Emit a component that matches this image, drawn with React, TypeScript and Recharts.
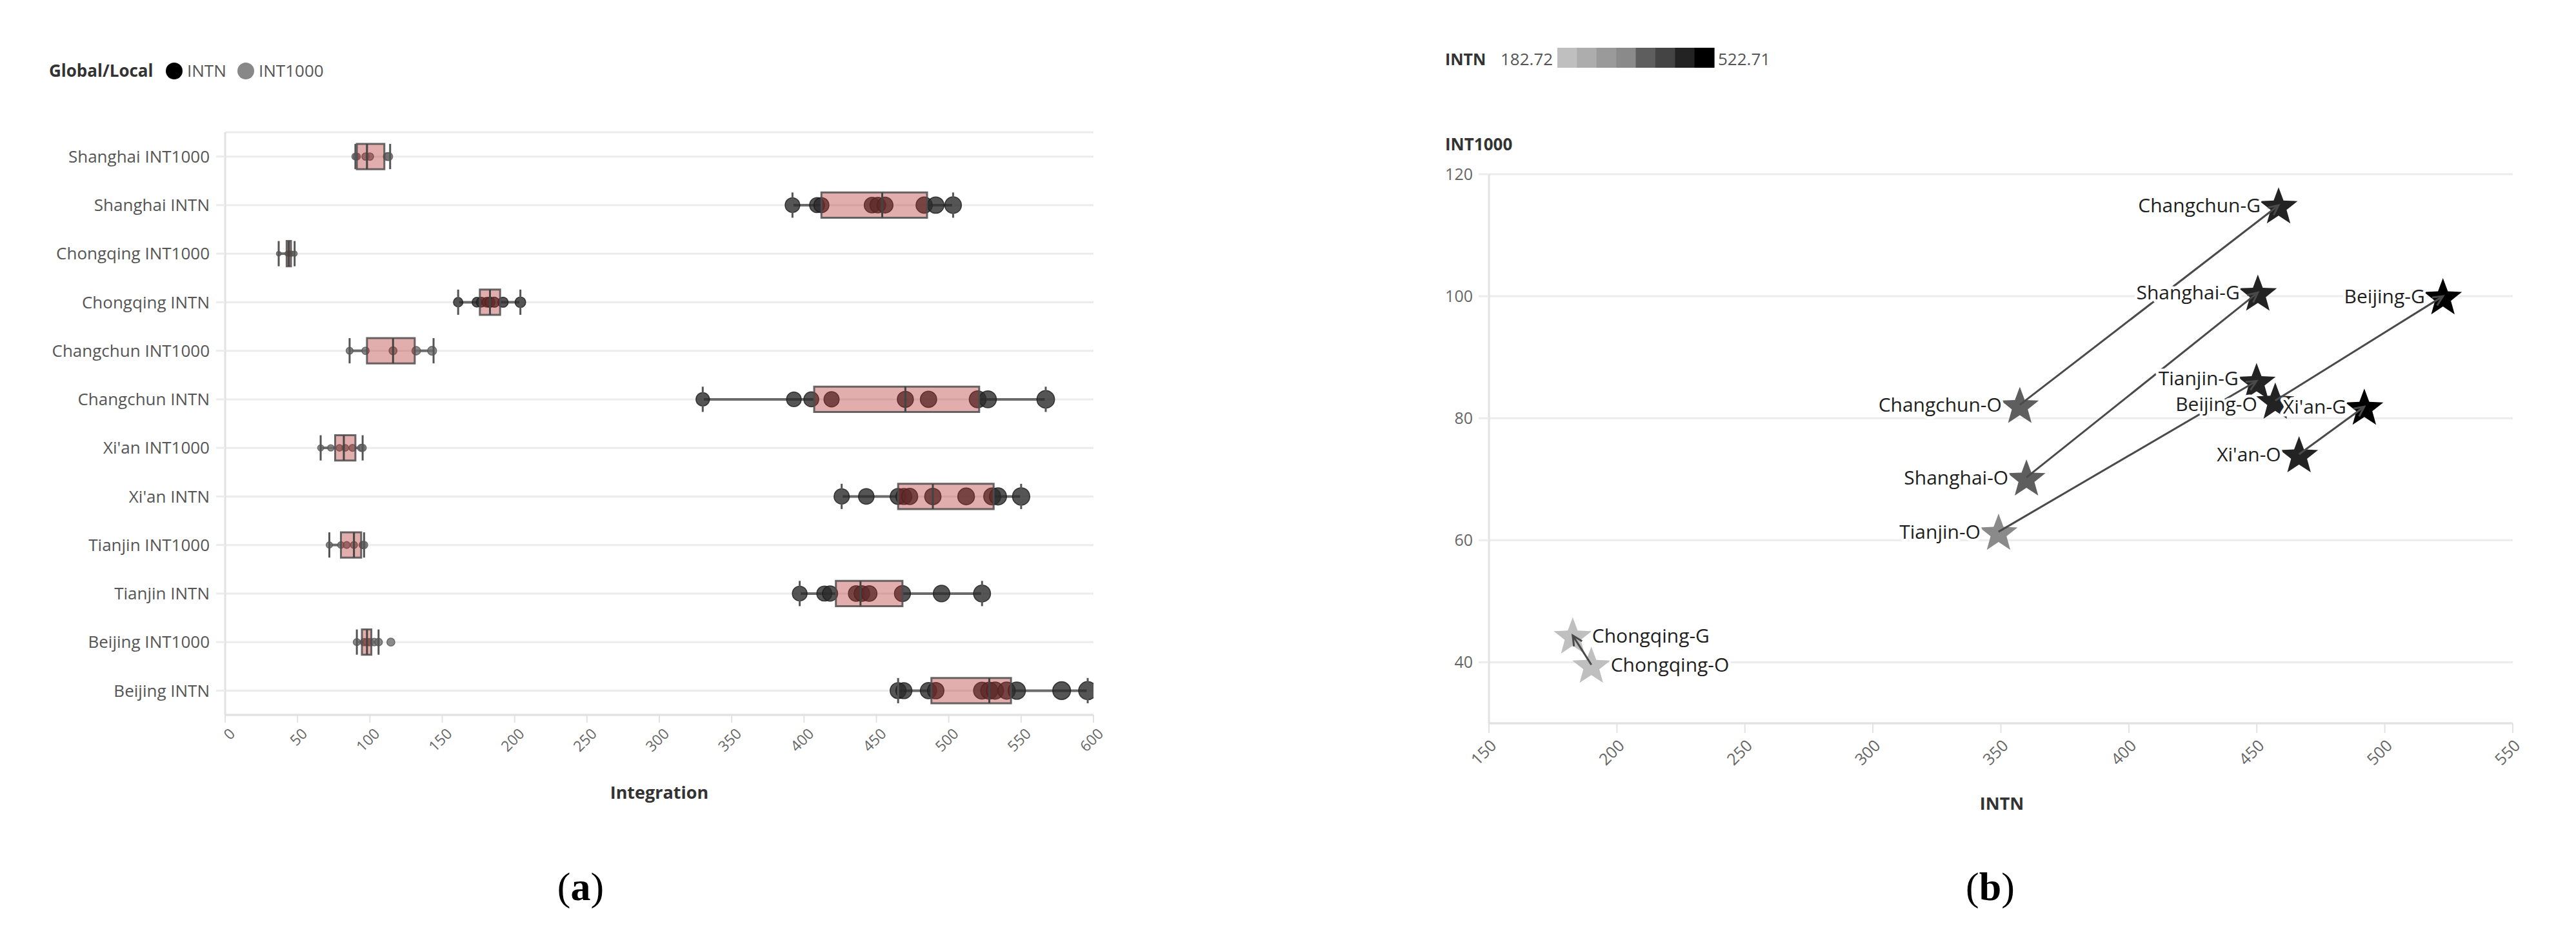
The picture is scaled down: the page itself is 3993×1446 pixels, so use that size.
import React from 'react';
import {
  ScatterChart,
  Scatter,
  XAxis,
  YAxis,
  CartesianGrid,
  ReferenceArea,
  ReferenceLine,
} from 'recharts';

// ---------------- (a) box plots ----------------
const rowLabels = [
  'Shanghai INT1000',
  'Shanghai INTN',
  'Chongqing INT1000',
  'Chongqing INTN',
  'Changchun INT1000',
  'Changchun INTN',
  "Xi'an INT1000",
  "Xi'an INTN",
  'Tianjin INT1000',
  'Tianjin INTN',
  'Beijing INT1000',
  'Beijing INTN',
];
const rowTicks = [0, 1, 2, 3, 4, 5, 6, 7, 8, 9, 10, 11];

const whiskerMin = [90, 392, 37, 161, 86, 330, 66, 426, 72, 397, 91, 465];
const boxQ1 = [91, 412, 42.5, 176, 98, 407, 76, 465, 80, 422, 94.5, 488];
const boxMedian = [98, 454, 44, 183, 116, 470, 82, 489, 89, 439, 98, 528];
const boxQ3 = [110, 485, 45.5, 190, 131, 521, 90, 531, 94, 468, 101, 543];
const whiskerMax = [114, 503, 48, 204, 144, 567, 95, 550, 96, 523, 106, 596];

const ptsShanghaiInt1000 = [90, 91, 97, 100, 112, 113];
const ptsShanghaiIntn = [392, 409, 412, 447, 451, 456, 483, 491, 503];
const ptsChongqingInt1000 = [37, 43, 44, 45, 46, 48];
const ptsChongqingIntn = [161, 174, 177, 181, 183, 186, 192, 204];
const ptsChangchunInt1000 = [86, 97, 116, 132, 143];
const ptsChangchunIntn = [330, 393, 405, 419, 470, 486, 520, 527, 567];
const ptsXianInt1000 = [66, 73, 79, 83, 88, 94, 95];
const ptsXianIntn = [426, 443, 465, 469, 473, 489, 512, 530, 534, 550];
const ptsTianjinInt1000 = [72, 80, 84, 89, 95, 96];
const ptsTianjinIntn = [397, 414, 418, 436, 440, 445, 468, 495, 523];
const ptsBeijingInt1000 = [91, 96, 98, 100, 103, 106, 114.5];
const ptsBeijingIntn = [465, 469, 486, 491, 523, 528, 532, 540, 547, 578, 596];

const rowPoints = [
  ptsShanghaiInt1000,
  ptsShanghaiIntn,
  ptsChongqingInt1000,
  ptsChongqingIntn,
  ptsChangchunInt1000,
  ptsChangchunIntn,
  ptsXianInt1000,
  ptsXianIntn,
  ptsTianjinInt1000,
  ptsTianjinIntn,
  ptsBeijingInt1000,
  ptsBeijingIntn,
];

const xTicksA = [0, 50, 100, 150, 200, 250, 300, 350, 400, 450, 500, 550, 600];

// ---------------- (b) scatter ----------------
const cities = ['Changchun', 'Shanghai', 'Beijing', 'Tianjin', "Xi'an", 'Chongqing'];
const globalIntn = [458.5, 450.4, 522.71, 449.9, 492, 182.72];
const globalInt1000 = [114.9, 100.6, 100, 86.1, 81.9, 44.4];
const originalIntn = [357.4, 360, 457.2, 349.1, 466.5, 190];
const originalInt1000 = [82.2, 70.3, 82.9, 61.4, 74.1, 39.6];
const labelsOnRight = ['Chongqing'];
const xTicksB = [150, 200, 250, 300, 350, 400, 450, 500, 550];
const yTicksB = [40, 60, 80, 100, 120];
const legendMin = 182.72;
const legendMax = 522.71;

// ---------------- styles ----------------
const FONT = "'Open Sans', 'Noto Sans', sans-serif";
const GRAY_STEPS = ['#bfbfbf', '#adadad', '#9a9a9a', '#8a8a8a', '#5e5e5e', '#444444', '#232323', '#000000'];
const BOX_HALF = 0.26;
const LABEL_NUDGE: Record<string, number> = { 'Tianjin-G': -4, 'Beijing-O': 5 };

const colorFor = (v: number) => {
  const idx = Math.max(0, Math.min(GRAY_STEPS.length - 1, Math.floor(((v - legendMin) / (legendMax - legendMin)) * GRAY_STEPS.length)));
  return GRAY_STEPS[idx];
};

const pointsData = rowPoints.flatMap((arr, i) =>
  arr.map((v) => ({ x: v, y: i, measure: rowLabels[i].endsWith('INTN') ? 'INTN' : 'INT1000' }))
);

const originData = cities.map((c, i) => ({
  x: originalIntn[i],
  y: originalInt1000[i],
  name: `${c}-O`,
  right: labelsOnRight.includes(c),
}));
const globalData = cities.map((c, i) => ({
  x: globalIntn[i],
  y: globalInt1000[i],
  name: `${c}-G`,
  right: labelsOnRight.includes(c),
}));
const starData = [...originData, ...globalData];

const PointShape = (props: any) => {
  const { cx, cy, payload } = props;
  if (cx == null || cy == null) return <g />;
  const r = 0.575 * Math.sqrt(payload.x);
  const isIntn = payload.measure === 'INTN';
  return (
    <circle
      cx={cx}
      cy={cy}
      r={r}
      fill={isIntn ? '#2b2b2b' : '#6f6f6f'}
      fillOpacity={0.8}
      stroke={isIntn ? '#1a1a1a' : '#555'}
      strokeOpacity={0.8}
      strokeWidth={1.5}
    />
  );
};

const starPath = (cx: number, cy: number, R: number, r: number) => {
  let d = '';
  for (let k = 0; k < 10; k++) {
    const rad = k % 2 === 0 ? R : r;
    const a = -Math.PI / 2 + (k * Math.PI) / 5;
    d += (k === 0 ? 'M' : 'L') + (cx + rad * Math.cos(a)).toFixed(2) + ',' + (cy + rad * Math.sin(a)).toFixed(2);
  }
  return d + 'Z';
};

const StarShape = (props: any) => {
  const { cx, cy, payload } = props;
  if (cx == null || cy == null) return <g />;
  return <path d={starPath(cx, cy + 3, 31, 13)} fill={colorFor(payload.x)} />;
};

const LabelShape = (props: any) => {
  const { cx, cy, payload } = props;
  if (cx == null || cy == null) return <g />;
  const right = payload.right;
  const nudge = LABEL_NUDGE[payload.name] ?? 0;
  return (
    <text
      x={right ? cx + 30 : cx - 28}
      y={cy + nudge}
      dy="0.36em"
      textAnchor={right ? 'start' : 'end'}
      fontSize={30}
      fontFamily={FONT}
      fill="#1e1e1e"
      stroke="#ffffff"
      strokeWidth={9}
      strokeLinejoin="round"
      paintOrder="stroke"
    >
      {payload.name}
    </text>
  );
};

const ArrowShape = (p: any) => {
  const { x1, y1, x2, y2 } = p;
  if ([x1, y1, x2, y2].some((v) => v == null || Number.isNaN(v))) return <g />;
  const ang = Math.atan2(y2 - y1, x2 - x1);
  const L = 17;
  const s = 0.45;
  const ax = x2 - L * Math.cos(ang - s);
  const ay = y2 - L * Math.sin(ang - s);
  const bx = x2 - L * Math.cos(ang + s);
  const by = y2 - L * Math.sin(ang + s);
  return (
    <g>
      <line x1={x1} y1={y1} x2={x2} y2={y2} stroke="#4a4a4a" strokeWidth={3} />
      <polyline points={`${ax},${ay} ${x2},${y2} ${bx},${by}`} fill="none" stroke="#4a4a4a" strokeWidth={3} />
    </g>
  );
};

const makeRotTick = (fontSize: number, dx: number, dy: number) => (props: any) => {
  const { x, y, payload } = props;
  const ax = x + dx;
  const ay = y + dy;
  return (
    <text
      x={ax}
      y={ay}
      dy="0.35em"
      textAnchor="end"
      transform={`rotate(-45, ${ax}, ${ay})`}
      fontSize={fontSize}
      fill="#666"
      fontFamily={FONT}
    >
      {payload.value}
    </text>
  );
};

const LeftChart = () => {
  const elems: React.ReactNode[] = [];
  rowLabels.forEach((_, i) => {
    elems.push(
      <ReferenceLine
        key={`wl${i}`}
        segment={[{ x: whiskerMin[i], y: i }, { x: boxQ1[i], y: i }]}
        stroke="#6a6a6a"
        strokeWidth={4}
        zIndex={200}
      />
    );
    elems.push(
      <ReferenceLine
        key={`wr${i}`}
        segment={[{ x: boxQ3[i], y: i }, { x: whiskerMax[i], y: i }]}
        stroke="#6a6a6a"
        strokeWidth={4}
        zIndex={200}
      />
    );
  });
  const top: React.ReactNode[] = [];
  rowLabels.forEach((_, i) => {
    top.push(
      <ReferenceArea
        key={`box${i}`}
        x1={boxQ1[i]}
        x2={boxQ3[i]}
        y1={i - BOX_HALF}
        y2={i + BOX_HALF}
        fill="#b42828"
        fillOpacity={0.38}
        stroke="#4d4d4d"
        strokeOpacity={0.85}
        strokeWidth={3}
        zIndex={700}
      />
    );
    top.push(
      <ReferenceLine
        key={`med${i}`}
        segment={[{ x: boxMedian[i], y: i - BOX_HALF }, { x: boxMedian[i], y: i + BOX_HALF }]}
        stroke="#444"
        strokeWidth={3}
        zIndex={750}
      />
    );
    top.push(
      <ReferenceLine
        key={`cmin${i}`}
        segment={[{ x: whiskerMin[i], y: i - BOX_HALF }, { x: whiskerMin[i], y: i + BOX_HALF }]}
        stroke="#555"
        strokeWidth={3}
        zIndex={750}
      />
    );
    top.push(
      <ReferenceLine
        key={`cmax${i}`}
        segment={[{ x: whiskerMax[i], y: i - BOX_HALF }, { x: whiskerMax[i], y: i + BOX_HALF }]}
        stroke="#555"
        strokeWidth={3}
        zIndex={750}
      />
    );
  });
  return (
    <ScatterChart width={1760} height={1300} margin={{ top: 205, right: 65, bottom: 132, left: 0 }}>
      <CartesianGrid vertical={false} stroke="#ececec" strokeWidth={3} />
      <XAxis
        type="number"
        dataKey="x"
        domain={[0, 600]}
        ticks={xTicksA}
        interval={0}
        allowDataOverflow
        height={60}
        axisLine={{ stroke: '#e2e2e2', strokeWidth: 3 }}
        tickLine={{ stroke: '#e2e2e2', strokeWidth: 2 }}
        tickSize={12}
        tick={makeRotTick(23, 11, 11)}
      />
      <YAxis
        type="number"
        dataKey="y"
        domain={[-0.5, 11.5]}
        reversed
        allowDataOverflow
        ticks={rowTicks}
        interval={0}
        width={349}
        tickFormatter={(v: number) => rowLabels[v] ?? ''}
        axisLine={{ stroke: '#e2e2e2', strokeWidth: 3 }}
        tickLine={{ stroke: '#ececec', strokeWidth: 3 }}
        tickSize={14}
        tickMargin={10}
        tick={{ fontSize: 26, fill: '#555', fontFamily: FONT }}
      />
      {elems}
      <Scatter data={pointsData} shape={PointShape} isAnimationActive={false} zIndex={500} />
      {top}
    </ScatterChart>
  );
};

const RightChart = () => (
  <ScatterChart width={1993} height={1300} margin={{ top: 270, right: 98, bottom: 119, left: 0 }}>
    <CartesianGrid vertical={false} stroke="#ececec" strokeWidth={3} />
    <XAxis
      type="number"
      dataKey="x"
      domain={[150, 550]}
      ticks={xTicksB}
      interval={0}
      allowDataOverflow
      height={60}
      axisLine={{ stroke: '#e2e2e2', strokeWidth: 3 }}
      tickLine={{ stroke: '#e2e2e2', strokeWidth: 2 }}
      tickSize={15}
      tick={makeRotTick(25, 7, 13)}
    />
    <YAxis
      type="number"
      dataKey="y"
      domain={[30, 120]}
      ticks={yTicksB}
      interval={0}
      allowDataOverflow
      width={308}
      axisLine={{ stroke: '#e2e2e2', strokeWidth: 3 }}
      tickLine={{ stroke: '#ececec', strokeWidth: 3 }}
      tickSize={16}
      tickMargin={9}
      tick={{ fontSize: 25, fill: '#666', fontFamily: FONT }}
    />
    <Scatter data={starData} shape={StarShape} isAnimationActive={false} zIndex={600} />
    {cities.map((c, i) => (
      <ReferenceLine
        key={`arr${c}`}
        segment={[
          { x: originalIntn[i], y: originalInt1000[i] },
          { x: globalIntn[i], y: globalInt1000[i] },
        ]}
        shape={ArrowShape}
        zIndex={650}
      />
    ))}
    <Scatter data={starData} shape={LabelShape} isAnimationActive={false} zIndex={700} />
  </ScatterChart>
);

const Overlay = () => {
  const cellW = (2657 - 2414) / GRAY_STEPS.length;
  return (
    <svg
      width={3993}
      height={1446}
      style={{ position: 'absolute', left: 0, top: 0, pointerEvents: 'none' }}
      fontFamily={FONT}
    >
      {/* legend (a) */}
      <text x={76} y={119} fontSize={26} fontWeight="bold" fill="#333">Global/Local</text>
      <circle cx={270} cy={110} r={13} fill="#000" />
      <text x={290} y={119} fontSize={26} fill="#555">INTN</text>
      <circle cx={381} cy={110} r={13} fill="#888" />
      <text x={401} y={119} fontSize={26} fill="#555">INT1000</text>
      <text x={1022} y={1238} fontSize={27} fontWeight="bold" fill="#333" textAnchor="middle">Integration</text>

      {/* legend (b) */}
      <text x={2240} y={101} fontSize={25} fontWeight="bold" fill="#333">INTN</text>
      <text x={2326} y={101} fontSize={26} fill="#555">{legendMin.toFixed(2)}</text>
      {GRAY_STEPS.map((c, k) => (
        <rect key={c} x={2414 + k * cellW} y={74} width={cellW + 0.6} height={31} fill={c} />
      ))}
      <text x={2663} y={101} fontSize={26} fill="#555">{legendMax.toFixed(2)}</text>
      <text x={2240} y={233} fontSize={26} fontWeight="bold" fill="#333">INT1000</text>
      <text x={3103} y={1255} fontSize={27} fontWeight="bold" fill="#333" textAnchor="middle">INTN</text>

      {/* panel labels */}
      <text x={900} y={1395} fontSize={62} fontFamily="'Liberation Serif', 'Times New Roman', serif" textAnchor="middle" fill="#000">
        (<tspan fontWeight="bold">a</tspan>)
      </text>
      <text x={3085} y={1395} fontSize={62} fontFamily="'Liberation Serif', 'Times New Roman', serif" textAnchor="middle" fill="#000">
        (<tspan fontWeight="bold">b</tspan>)
      </text>
    </svg>
  );
};

export default function App() {
  return (
    <div style={{ position: 'absolute', left: 0, top: 0, width: 3993, height: 1446, background: '#fff', overflow: 'hidden' }}>
      <div style={{ position: 'absolute', left: 0, top: 0 }}>
        <LeftChart />
      </div>
      <div style={{ position: 'absolute', left: 2000, top: 0 }}>
        <RightChart />
      </div>
      <Overlay />
    </div>
  );
}
